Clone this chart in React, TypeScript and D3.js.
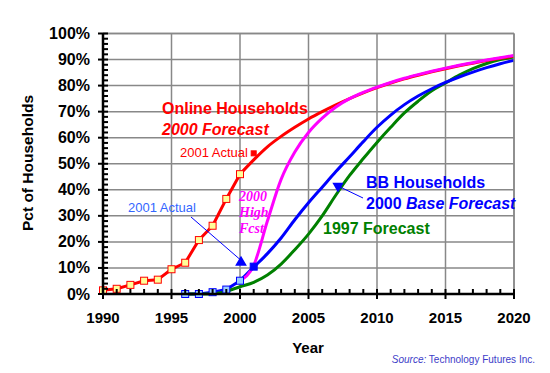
import React, { useEffect, useRef } from 'react';
import * as d3 from 'd3';

// Online households, actual (1990-2000)
const onlineActualYears = [1990, 1991, 1992, 1993, 1994, 1995, 1996, 1997, 1998, 1999, 2000];
const onlineActualPct = [1.4, 2, 3.5, 5.1, 5.5, 9.5, 12, 20.7, 26.2, 36.5, 46];

// Online households, 2000 forecast
const fcstYears = [2000, 2001, 2002, 2003, 2004, 2005, 2006, 2007, 2008, 2009, 2010,
  2011, 2012, 2013, 2014, 2015, 2016, 2017, 2018, 2019, 2020];
const onlineFcstPct = [46, 51.5, 56.5, 60.5, 64, 67.2, 70, 72.6, 75, 77.2, 79.2,
  81, 82.6, 84, 85.3, 86.5, 87.6, 88.6, 89.6, 90.5, 91.3];

// BB households, 2000 high forecast
const highFcstPct = [5.1, 11, 28, 44, 54.5, 62, 67.5, 71.8, 75, 77.4, 79.4,
  81.2, 82.8, 84.2, 85.5, 86.7, 87.8, 88.8, 89.8, 90.7, 91.6];

// BB households, actual
const bbActualYears = [1996, 1997, 1998, 1999, 2000];
const bbActualPct = [0, 0, 0.7, 1.7, 5.1];

// BB households, 2000 base forecast
const bbFcstPct = [5.1, 10.3, 15.5, 21.5, 28.5, 35, 41, 47, 52.7, 58.5, 64,
  68.7, 72.7, 76, 78.8, 81.2, 83.3, 85.2, 86.9, 88.4, 89.7];

// 1997 forecast
const fcst1997Years = [1996, 1997, 1998, 1999, 2000, 2001, 2002, 2003, 2004, 2005, 2006, 2007, 2008,
  2009, 2010, 2011, 2012, 2013, 2014, 2015, 2016, 2017, 2018, 2019, 2020];
const fcst1997Pct = [0, 0, 0, 1, 2.8, 4.5, 7.3, 11.5, 17, 23, 30, 38, 45.5,
  52, 58.2, 64, 69.5, 74, 78, 81, 84, 86.5, 88.5, 90, 91];

// single annotated points
const onlineActual2001 = { year: 2001, pct: 54 };
const bbActual2001 = { year: 2000, pct: 12.5 };
const bbMarker2001 = { year: 2001, pct: 10.5 };

const xTicks = [1990, 1995, 2000, 2005, 2010, 2015, 2020];
const yTicks = [0, 10, 20, 30, 40, 50, 60, 70, 80, 90, 100];

const FONT = 'Arial, "Liberation Sans", sans-serif';
const SERIF = '"Times New Roman", "Liberation Serif", serif';

function App() {
  const svgRef = useRef(null);

  useEffect(() => {
    const svg = d3.select(svgRef.current);
    svg.selectAll('*').remove();

    const x = d3.scaleLinear().domain([1990, 2020]).range([103, 514]);
    const y = d3.scaleLinear().domain([0, 100]).range([294, 33.5]);

    // grid
    const grid = svg.append('g');
    grid.selectAll('.hg')
      .data(yTicks.filter((d) => d > 0))
      .enter()
      .append('line')
      .attr('x1', x(1990)).attr('x2', x(2020))
      .attr('y1', (d) => y(d)).attr('y2', (d) => y(d))
      .attr('stroke', '#888').attr('stroke-width', 1.5);
    grid.selectAll('.vg')
      .data(xTicks.filter((d) => d > 1990))
      .enter()
      .append('line')
      .attr('x1', (d) => x(d)).attr('x2', (d) => x(d))
      .attr('y1', y(0)).attr('y2', y(100))
      .attr('stroke', '#888').attr('stroke-width', 1.5);

    const line = (xs, ys, curve) => d3.line()
      .x((d, i) => x(xs[i]))
      .y((d) => y(d))
      .curve(curve)(ys);

    const path = (d, color, w) => svg.append('path')
      .attr('d', d)
      .attr('fill', 'none')
      .attr('stroke', color)
      .attr('stroke-width', w)
      .attr('stroke-linejoin', 'round');

    path(line(bbActualYears, bbActualPct, d3.curveLinear), '#0000ff', 3);
    path(line(fcst1997Years, fcst1997Pct, d3.curveMonotoneX), '#008000', 3);
    path(line(fcstYears, bbFcstPct, d3.curveMonotoneX), '#0000ff', 3);
    path(line(fcstYears, onlineFcstPct, d3.curveMonotoneX), '#ff0000', 3);
    path(line(onlineActualYears, onlineActualPct, d3.curveLinear), '#ff0000', 3);
    path(line(fcstYears, highFcstPct, d3.curveMonotoneX), '#ff00ff', 3);

    // markers
    const squares = (xs, ys, fill, stroke, s) => svg.append('g')
      .selectAll('rect')
      .data(ys)
      .enter()
      .append('rect')
      .attr('x', (d, i) => x(xs[i]) - s / 2)
      .attr('y', (d) => y(d) - s / 2)
      .attr('width', s).attr('height', s)
      .attr('fill', fill)
      .attr('stroke', stroke)
      .attr('stroke-width', 1);

    squares(onlineActualYears, onlineActualPct, '#ffff99', '#ff0000', 7);
    squares(bbActualYears, bbActualPct, '#99ccff', '#0000ff', 7);
    squares([bbMarker2001.year], [bbMarker2001.pct], '#0000ff', '#0000ff', 7);
    squares([onlineActual2001.year], [onlineActual2001.pct], '#ff0000', '#ff0000', 5);

    // plot frame
    svg.append('line')
      .attr('x1', x(1990)).attr('x2', x(2020)).attr('y1', y(100)).attr('y2', y(100))
      .attr('stroke', '#888').attr('stroke-width', 1.5);
    svg.append('line')
      .attr('x1', x(2020)).attr('x2', x(2020)).attr('y1', y(0)).attr('y2', y(100))
      .attr('stroke', '#888').attr('stroke-width', 1.5);

    // axes
    const ax = svg.append('g').attr('stroke', '#000').attr('stroke-width', 2.5);
    ax.append('line').attr('x1', x(1990)).attr('x2', x(1990)).attr('y1', y(0) + 1).attr('y2', y(100));
    ax.append('line').attr('x1', x(1990)).attr('x2', x(2020) + 1).attr('y1', y(0)).attr('y2', y(0));

    const yMinor = d3.range(0, 101, 2).filter((d) => d % 10 !== 0);
    ax.selectAll('.ym').data(yMinor).enter().append('line')
      .attr('x1', x(1990)).attr('x2', x(1990) + 5)
      .attr('y1', (d) => y(d)).attr('y2', (d) => y(d))
      .attr('stroke-width', 2);
    ax.selectAll('.yM').data(yTicks).enter().append('line')
      .attr('x1', x(1990) - 5).attr('x2', x(1990) + 5)
      .attr('y1', (d) => y(d)).attr('y2', (d) => y(d))
      .attr('stroke-width', 2);

    const xMinor = d3.range(1991, 2020).filter((d) => d % 5 !== 0);
    ax.selectAll('.xm').data(xMinor).enter().append('line')
      .attr('x1', (d) => x(d)).attr('x2', (d) => x(d))
      .attr('y1', y(0) - 5).attr('y2', y(0))
      .attr('stroke-width', 2);
    ax.selectAll('.xM').data(xTicks).enter().append('line')
      .attr('x1', (d) => x(d)).attr('x2', (d) => x(d))
      .attr('y1', y(0) - 5).attr('y2', y(0) + 5)
      .attr('stroke-width', 2);

    // tick labels
    svg.append('g').selectAll('text').data(yTicks).enter().append('text')
      .attr('x', 90).attr('y', (d) => y(d) + 5.5)
      .attr('text-anchor', 'end')
      .attr('font-family', FONT).attr('font-size', 16).attr('font-weight', 'bold')
      .text((d) => `${d}%`);
    svg.append('g').selectAll('text').data(xTicks).enter().append('text')
      .attr('x', (d) => x(d)).attr('y', 323)
      .attr('text-anchor', 'middle')
      .attr('font-family', FONT).attr('font-size', 15).attr('font-weight', 'bold')
      .text((d) => d);

    svg.append('text')
      .attr('x', 308).attr('y', 353)
      .attr('text-anchor', 'middle')
      .attr('font-family', FONT).attr('font-size', 15).attr('font-weight', 'bold')
      .text('Year');
    svg.append('text')
      .attr('transform', 'translate(33,163) rotate(-90)')
      .attr('text-anchor', 'middle')
      .attr('font-family', FONT).attr('font-size', 15.5).attr('font-weight', 'bold')
      .text('Pct of Households');

    const src = svg.append('text')
      .attr('x', 535).attr('y', 363)
      .attr('text-anchor', 'end')
      .attr('font-family', FONT).attr('font-size', 10).attr('fill', '#3c3cc8');
    src.append('tspan').attr('font-style', 'italic').text('Source:');
    src.append('tspan').text(' Technology Futures Inc.');

    // annotations
    const label = (tx, ty, txt, color, size, weight, style, family = FONT) => svg.append('text')
      .attr('x', tx).attr('y', ty)
      .attr('font-family', family).attr('font-size', size)
      .attr('font-weight', weight).attr('font-style', style)
      .attr('fill', color)
      .text(txt);

    label(162, 114, 'Online Households', '#ff0000', 16, 'bold', 'normal');
    label(162, 135, '2000 Forecast', '#ff0000', 16, 'bold', 'italic');
    label(180, 157, '2001 Actual', '#ff0000', 13, 'normal', 'normal');

    label(128, 212, '2001 Actual', '#3366ff', 13, 'normal', 'normal');
    svg.append('line')
      .attr('x1', 191).attr('y1', 217).attr('x2', x(bbActual2001.year)).attr('y2', y(bbActual2001.pct) - 2)
      .attr('stroke', '#0000ff').attr('stroke-width', 1);
    svg.append('path')
      .attr('d', d3.symbol().type(d3.symbolTriangle).size(60)())
      .attr('transform', `translate(${x(bbActual2001.year) + 1},${y(bbActual2001.pct) + 1})`)
      .attr('fill', '#0000ff');

    label(239, 201, '2000', '#ff00ff', 14, 'bold', 'italic', SERIF);
    label(239, 217, 'High', '#ff00ff', 14, 'bold', 'italic', SERIF);
    label(239, 233, 'Fcst', '#ff00ff', 14, 'bold', 'italic', SERIF);

    label(366, 188, 'BB Households', '#0000ff', 16, 'bold', 'normal');
    const bb2 = label(366, 209, '2000 ', '#0000ff', 16, 'bold', 'normal');
    bb2.append('tspan').attr('font-style', 'italic').text('Base Forecast');
    svg.append('line')
      .attr('x1', 363).attr('y1', 198).attr('x2', 338).attr('y2', 186)
      .attr('stroke', '#0000ff').attr('stroke-width', 1);
    svg.append('path')
      .attr('d', d3.symbol().type(d3.symbolTriangle).size(55)())
      .attr('transform', 'translate(338,186) rotate(180)')
      .attr('fill', '#0000ff');

    label(323, 234, '1997 Forecast', '#008000', 16, 'bold', 'normal');
  }, []);

  return (
    <svg
      ref={svgRef}
      width={550}
      height={373}
      style={{ position: 'absolute', left: 0, top: 0, background: '#fff' }}
    />
  );
}

export default App;
